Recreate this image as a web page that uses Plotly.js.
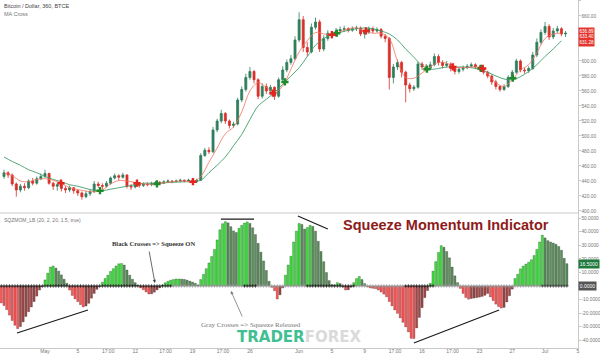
<!DOCTYPE html>
<html><head><meta charset="utf-8">
<script src="https://cdn.plot.ly/plotly-3.0.1.min.js"></script>
<style>html,body{margin:0;padding:0;background:#fff}#chart{width:600px;height:356px}</style>
</head><body><div id="chart"></div>
<script>
// ---------- DATA ----------
// Candles: one every half day, first candle at day -5 (day 0 = May 1)
const candleStart = -5, candleStep = 0.5;
const open = [446,451,448,436,428,433,431,440,437,443, 446,450,437,433,435,430,428,431,427,424,
  419,423,426,436,434,433,437,444,447,445, 448,433,432,436,434,436,435,437,438,437,
  439,440,439,440,441,440,441,439,441,474, 481,479,508,520,530,520,514,516,548,562,
  578,586,575,553,566,560,565,553,575,588, 598,603,628,655,618,612,645,652,616,630,
  637,634,640,642,643,641,643,644,636,639, 643,640,642,633,630,578,592,598,585,568,
  563,565,596,592,590,595,606,598,594,596, 590,586,589,591,593,595,592,590,585,580,
  572,566,562,566,578,585,600,588,587,590, 608,625,638,646,632,640,643,636];
const high = [455,453,450,438,436,437,442,444,446,450, 455,451,439,438,437,433,434,432,429,426,
  427,429,440,439,437,440,446,450,449,451, 449,436,438,437,438,438,439,440,440,441,
  442,441,442,443,442,443,442,443,477,484, 485,512,523,535,532,522,519,551,566,583,
  592,588,577,570,570,568,566,578,593,602, 608,633,665,660,625,650,658,655,634,641,
  640,644,646,647,645,646,647,646,642,646, 646,645,644,636,632,596,602,600,587,571,
  568,599,599,596,599,610,609,601,600,598, 593,592,594,596,598,597,594,592,587,582,
  575,568,569,581,588,603,602,591,593,612, 630,642,652,649,644,647,645,640];
const low = [443,444,433,419,425,427,429,434,435,441, 444,435,428,427,426,424,425,423,420,415,
  417,420,424,431,429,431,435,442,441,443, 430,428,430,431,432,433,433,435,435,436,
  437,437,438,438,438,439,437,437,440,472, 476,477,505,517,516,510,511,514,545,559,
  575,570,549,550,556,555,548,551,573,585, 595,601,625,612,606,610,642,612,613,627,
  630,632,638,639,638,639,640,633,630,636, 637,638,630,625,562,570,588,578,545,558,
  560,563,588,586,588,593,594,590,591,586, 582,583,586,589,591,589,587,582,577,568,
  562,559,560,564,576,583,585,583,584,588, 605,622,635,628,629,637,633,632];
const close = [451,448,436,428,433,431,440,437,443,446, 450,437,433,435,430,428,431,427,424,419,
  423,426,436,434,433,437,444,447,445,448, 433,432,436,434,436,435,437,438,437,439,
  440,439,440,441,440,441,439,441,474,481, 479,508,520,530,520,514,516,548,562,578,
  586,575,553,566,560,565,553,575,588,598, 603,628,655,618,612,645,652,616,630,637,
  634,640,642,643,641,643,644,636,639,643, 640,642,633,630,578,592,598,585,568,563,
  565,596,592,590,595,606,598,594,596,590, 586,589,591,593,595,592,590,585,580,572,
  566,562,566,578,585,600,588,587,590,608, 625,638,646,632,640,643,636,637];

// Moving averages, one value per day from day -5
const maStart = -5, maStep = 1;
const maFast = [451,447,440,439,442,443,441,437,431,428.5,426.5,425.5,428,436,440.5,440,438,436,435.5,436.5,
  438.5,439.5,440,439,446,465,484,503,512,532,560,571,565,558,567,589,612,627,638,636,
  635,639,643,644,640,637,637,630,600,578,577,584,592,598,597,592,591,592,591,583,
  571,566,575,588,595,611,630,636,637];
const maSlow = [472,466,461,455,451,446,442,439,435,433,430,427.5,427,429,431,433,435,437,437,437,
  438,438.5,439,439,441,451,461,472,487,502,522,540,549,558,569,580,591,606,621,630,
  635,638,641,643,644,643,640,636,628,616,605,594,589,590,592,592,592,591,589,585,
  580,576,575,579,586,595,606,616,627];

// MA cross markers (day, price)
const crossUpDay   = [6.71,13.66,29.27,35.6,46.59,53.17,57.07];
const crossUpPrice = [427,436,572,637,589,590,577];
const crossDnDay   = [1.95,11.22,18.05,27.8,35.0,39.15,49.76,53.4];
const crossDnPrice = [437,437,439,557,635,640,592,590];

// Squeeze momentum histogram: one bar every 1/3 day, first at day -16/3
const momStart = -16/3, momStep = 1/3;
const momentum = [-12.5,-14.5,-17.5,-21.5,-25.5,-29,-31.5,-30,-26.5,-22.5,
  -19,-15.5,-11.5,-7.5,-3,-0.5,4.5,9.5,14,14.8,
  13.2,11,8.2,5,2,-3,-7,-9.5,-11.5,-13.8,
  -15.5,-14.8,-12.8,-9,-5.5,-2.5,-0.5,2.8,5.5,8,
  10.8,12.8,14.8,16.4,16.6,15.5,11.8,8,5,2.5,
  0.5,-1.4,-2.8,-4.4,-5.9,-5.8,-4.6,-2.9,-1.3,0.8,
  2.4,3.5,4.3,4.8,5.2,5.2,5.1,4.9,4.3,3.6,
  2.9,2,0.8,4.8,8.6,12.8,17,21.8,27,34,
  41.5,46,47.5,46.6,43.8,40.7,39.5,42.6,44.8,46.5,
  47.3,46.2,43,38,31.5,25,18.5,11.5,3.5,-1,
  -3.5,-9.6,-6.5,-1.5,8,15.5,22,32.5,40.5,46.2,
  45.5,42,43.2,44.8,44,40.5,33,25.5,18,10,
  4,1,0.8,2.5,1.8,-0.8,-3,-2.8,-0.8,2.5,
  5.5,7,4.8,1.8,-0.7,-1.5,-1.7,-2,-3,-4.4,
  -6,-8,-11.5,-14.7,-17.7,-20.2,-23.6,-26.8,-30.2,-33.9,
  -38.6,-38.8,-31,-23.2,-16,-8.6,-3.4,2,11,18,
  24.8,29.8,28.6,25.5,20.8,14,7.5,2.5,-1.8,-5.5,
  -8.5,-9.7,-9.3,-8.9,-8.6,-8.2,-7.7,-6.9,-5.5,-8.1,
  -10.8,-13.4,-15.2,-16.3,-15.8,-11.8,-7.2,-2.3,5.5,8.7,
  12.7,14.7,16.2,17.6,19.4,22.5,27,32.5,37.5,35.5,
  33.5,32.5,31.7,30.8,29.2,26.4,20.5,16.5];
// squeeze state per bar: 1 = on (black cross), 0 = released (gray cross)
const squeezeOn = [1,1,1,1,1,1,1,1,1,1, 1,1,1,1,1,1,1,1,1,1, 1,1,1,1,1,1,1,1,1,1,
  1,1,1,1,1,1,1,1,1,1, 1,1,1,1,1,1,1,1,1,1, 1,1,1,1,1,1,1,1,1,1, 1,1,1,
  0,0,0,0,0,0,0,0,0,0, 0,0,0,0,0,0,0,0,0,0, 0,0,0,0,0,0,
  1,1,1,1,1,
  0,0,0,0,0,0,0,0,0,0, 0,0,0,0,0,0,0,0,
  1,1,1,1,1,1,1,1,1,1, 1,1,1,1,1,1,1,1,
  0,0,0,0,0,0,0,0,0,0, 0,0,0,0,0,0,0,0,
  1,1,1,1,1,1,1,1,1,1,1,
  0,0,0,0,0,0,0,0,0,0, 0,0,0,0,0,0,0,0,0,
  0,0,0,0,0,0,0,0,0,0, 0,0,0,0,0,0,0,0,0,0];

// Axis ticks (labels hidden behind the value tags are left out, as in the picture)
const dateTickDays = [0,4,7.708,11,14.708,18,21.708,25,31,35,39,42.708,46,49.708,53,57,61,65];
const dateTickText = ['May','5','17:00','12','17:00','19','17:00','26','Jun','5','9','17:00','16','17:00','23','27','Jul','5'];
const priceTicks = [400,420,440,460,480,500,520,540,560,580,600,660,680];
const momTicks = [-40,-30,-20,-10,10,20,30,40,50];
const priceTags = ['636.89','633.40','631.28'];

// ---------- DRAWING ----------
const W = 600, H = 356, M = {l:0, r:22, t:0, b:8};
const PW = W - M.l - M.r, PH = H - M.t - M.b;
const split = 135 / PH;
const px = x => x / PW, py = y => 1 - y / PH;
const FONT = 'Liberation Sans, Arial, sans-serif';

const cx = open.map((_, i) => candleStart + i * candleStep);
const mx = maFast.map((_, i) => maStart + i * maStep);
const hx = momentum.map((_, i) => momStart + i * momStep);

const LIME = '#3fe23f', DKGREEN = '#5c8f5c', RED = '#ff5656', MAROON = '#a34747';
const barColors = momentum.map((v, i) => {
  const p = i > 0 ? momentum[i - 1] : v;
  if (v >= 0) return v >= p ? LIME : DKGREEN;
  return v <= p ? RED : MAROON;
});

const traces = [
  {type:'candlestick', x:cx, open:open, high:high, low:low, close:close, xaxis:'x', yaxis:'y',
   increasing:{line:{color:'#2f7d5d', width:0.8}, fillcolor:'#2f7d5d'},
   decreasing:{line:{color:'#d8302a', width:0.8}, fillcolor:'#d8302a'},
   whiskerwidth:0, hoverinfo:'skip', showlegend:false},
  {type:'scatter', mode:'lines', x:mx, y:maSlow, xaxis:'x', yaxis:'y',
   line:{color:'#3f9e6b', width:0.9, shape:'spline'}, hoverinfo:'skip', showlegend:false},
  {type:'scatter', mode:'lines', x:mx, y:maFast, xaxis:'x', yaxis:'y',
   line:{color:'#f2745f', width:0.8, shape:'spline'}, hoverinfo:'skip', showlegend:false},
  {type:'scatter', mode:'markers', x:crossUpDay, y:crossUpPrice, xaxis:'x', yaxis:'y',
   marker:{symbol:'cross', size:6, color:'#1f8a2a'}, hoverinfo:'skip', showlegend:false},
  {type:'scatter', mode:'markers', x:crossDnDay, y:crossDnPrice, xaxis:'x', yaxis:'y',
   marker:{symbol:'cross', size:6, color:'#e5241d'}, hoverinfo:'skip', showlegend:false},
  {type:'bar', x:hx, y:momentum, xaxis:'x', yaxis:'y2',
   marker:{color:barColors, line:{color:'rgba(20,20,20,0.45)', width:0.5}},
   hoverinfo:'skip', showlegend:false},
  {type:'scatter', mode:'markers', x:hx, y:momentum.map(() => 0), xaxis:'x', yaxis:'y2',
   marker:{symbol:'cross-thin', size:2.4, line:{width:0.8, color:squeezeOn.map(s => s ? '#1a1a1a' : '#9a9a9a')},
           color:squeezeOn.map(s => s ? '#1a1a1a' : '#9a9a9a')},
   hoverinfo:'skip', showlegend:false}
];

const ann = (text, x, y, size, color, extra) => Object.assign({
  text:text, xref:'paper', yref:'paper', x:px(x), y:py(y), showarrow:false,
  font:{family:FONT, size:size, color:color}, xanchor:'left', yanchor:'middle'}, extra || {});

const lastMom = momentum[momentum.length - 1];
const annotations = [
  ann('Bitcoin / Dollar, 360, BTCE', 2, 6, 5.5, '#444'),
  ann('MA Cross', 2, 13.5, 5.5, '#777'),
  ann('SQZMOM_LB (20, 2, 20, 1.5, true)', 2, 220, 5, '#777'),
  ann('<b>Squeeze Momentum Indicator</b>', 446, 225, 14.5, '#8e1b1b', {xanchor:'center'}),
  ann('<b>Black Crosses =&gt; Squeeze ON</b>', 153, 243, 6.5, '#333',
      {xanchor:'center', font:{family:'Liberation Serif, serif', size:6.5, color:'#333'}}),
  ann('Gray Crosses =&gt; Squeeze Released', 251, 325, 7, '#777',
      {xanchor:'center', font:{family:'Liberation Serif, serif', size:7, color:'#777'}}),
  ann('<b><span style="color:#41bf92">TRADER</span><span style="color:#dadada">FOREX</span></b>', 299, 347.5, 15, '#41bf92',
      {xanchor:'center', yanchor:'bottom', font:{family:'DejaVu Sans, sans-serif', size:15, color:'#41bf92'}}),
  // arrows
  {x:13.41, y:2.2, xref:'x', yref:'y2', ax:-6, ay:-33, showarrow:true, arrowhead:2, arrowsize:0.8,
   arrowwidth:0.8, arrowcolor:'#444', text:''},
  {x:22.68, y:-3.7, xref:'x', yref:'y2', ax:12, ay:27, showarrow:true, arrowhead:2, arrowsize:0.8,
   arrowwidth:0.8, arrowcolor:'#777', text:''},
  // right-side value tags
  {text:priceTags.join('<br>'), xref:'paper', yref:'y', x:1, y:631.5, xanchor:'left', yanchor:'middle',
   showarrow:false, bgcolor:'#e2362f', borderpad:0.5, font:{family:FONT, size:4.6, color:'#fff'}},
  {text:lastMom.toFixed(4), xref:'paper', yref:'y2', x:1, y:lastMom, xanchor:'left', yanchor:'middle',
   showarrow:false, bgcolor:'#1f7a3d', borderpad:0.8, font:{family:FONT, size:5, color:'#fff'}},
  {text:(0).toFixed(4), xref:'paper', yref:'y2', x:1, y:0, xanchor:'left', yanchor:'middle',
   showarrow:false, bgcolor:'#555', borderpad:0.8, font:{family:FONT, size:5, color:'#fff'}}
];

const lineShape = (x0, y0, x1, y1) => ({type:'line', xref:'x', yref:'y2', x0:x0, y0:y0, x1:x1, y1:y1,
  line:{color:'#1a1a1a', width:1.2}});
const shapes = [
  {type:'line', xref:'paper', yref:'paper', x0:0, x1:1, y0:split, y1:split, line:{color:'#c9c9c9', width:1}},
  lineShape(21.46, 49.4, 25.5, 49.4),
  lineShape(30.85, 51.7, 34.5, 42.1),
  lineShape(-3.41, -34.7, 5.24, -17.7),
  lineShape(45.0, -42.1, 55.4, -17.7)
];

const yBase = {side:'right', anchor:'x', showgrid:false, zeroline:false, showline:true,
  linecolor:'#c9c9c9', linewidth:1, ticks:'outside', ticklen:1.5, tickcolor:'#c9c9c9',
  tickfont:{family:FONT, size:4.8, color:'#777'}, fixedrange:true};

const layout = {
  width:W, height:H, margin:M, paper_bgcolor:'#fff', plot_bgcolor:'#fff',
  showlegend:false, bargap:0.2, font:{family:FONT},
  xaxis:{type:'linear', range:[-45/8.2, 65.02], anchor:'y2', showgrid:false, zeroline:false,
    showline:true, linecolor:'#c9c9c9', linewidth:1, ticks:'', ticklabelstandoff:-2,
    tickmode:'array', tickvals:dateTickDays, ticktext:dateTickText,
    tickfont:{family:FONT, size:5, color:'#777'}, rangeslider:{visible:false}, fixedrange:true},
  yaxis:Object.assign({}, yBase, {domain:[split, 1], range:[397.3, 681.3], tickmode:'array',
    tickvals:priceTicks, ticktext:priceTicks.map(v => v.toFixed(2))}),
  yaxis2:Object.assign({}, yBase, {domain:[0, split], range:[-45.76, 53.87], tickmode:'array',
    tickvals:momTicks, ticktext:momTicks.map(v => v.toFixed(4))}),
  annotations:annotations, shapes:shapes
};

Plotly.newPlot('chart', traces, layout, {displayModeBar:false, staticPlot:true});
</script></body></html>
